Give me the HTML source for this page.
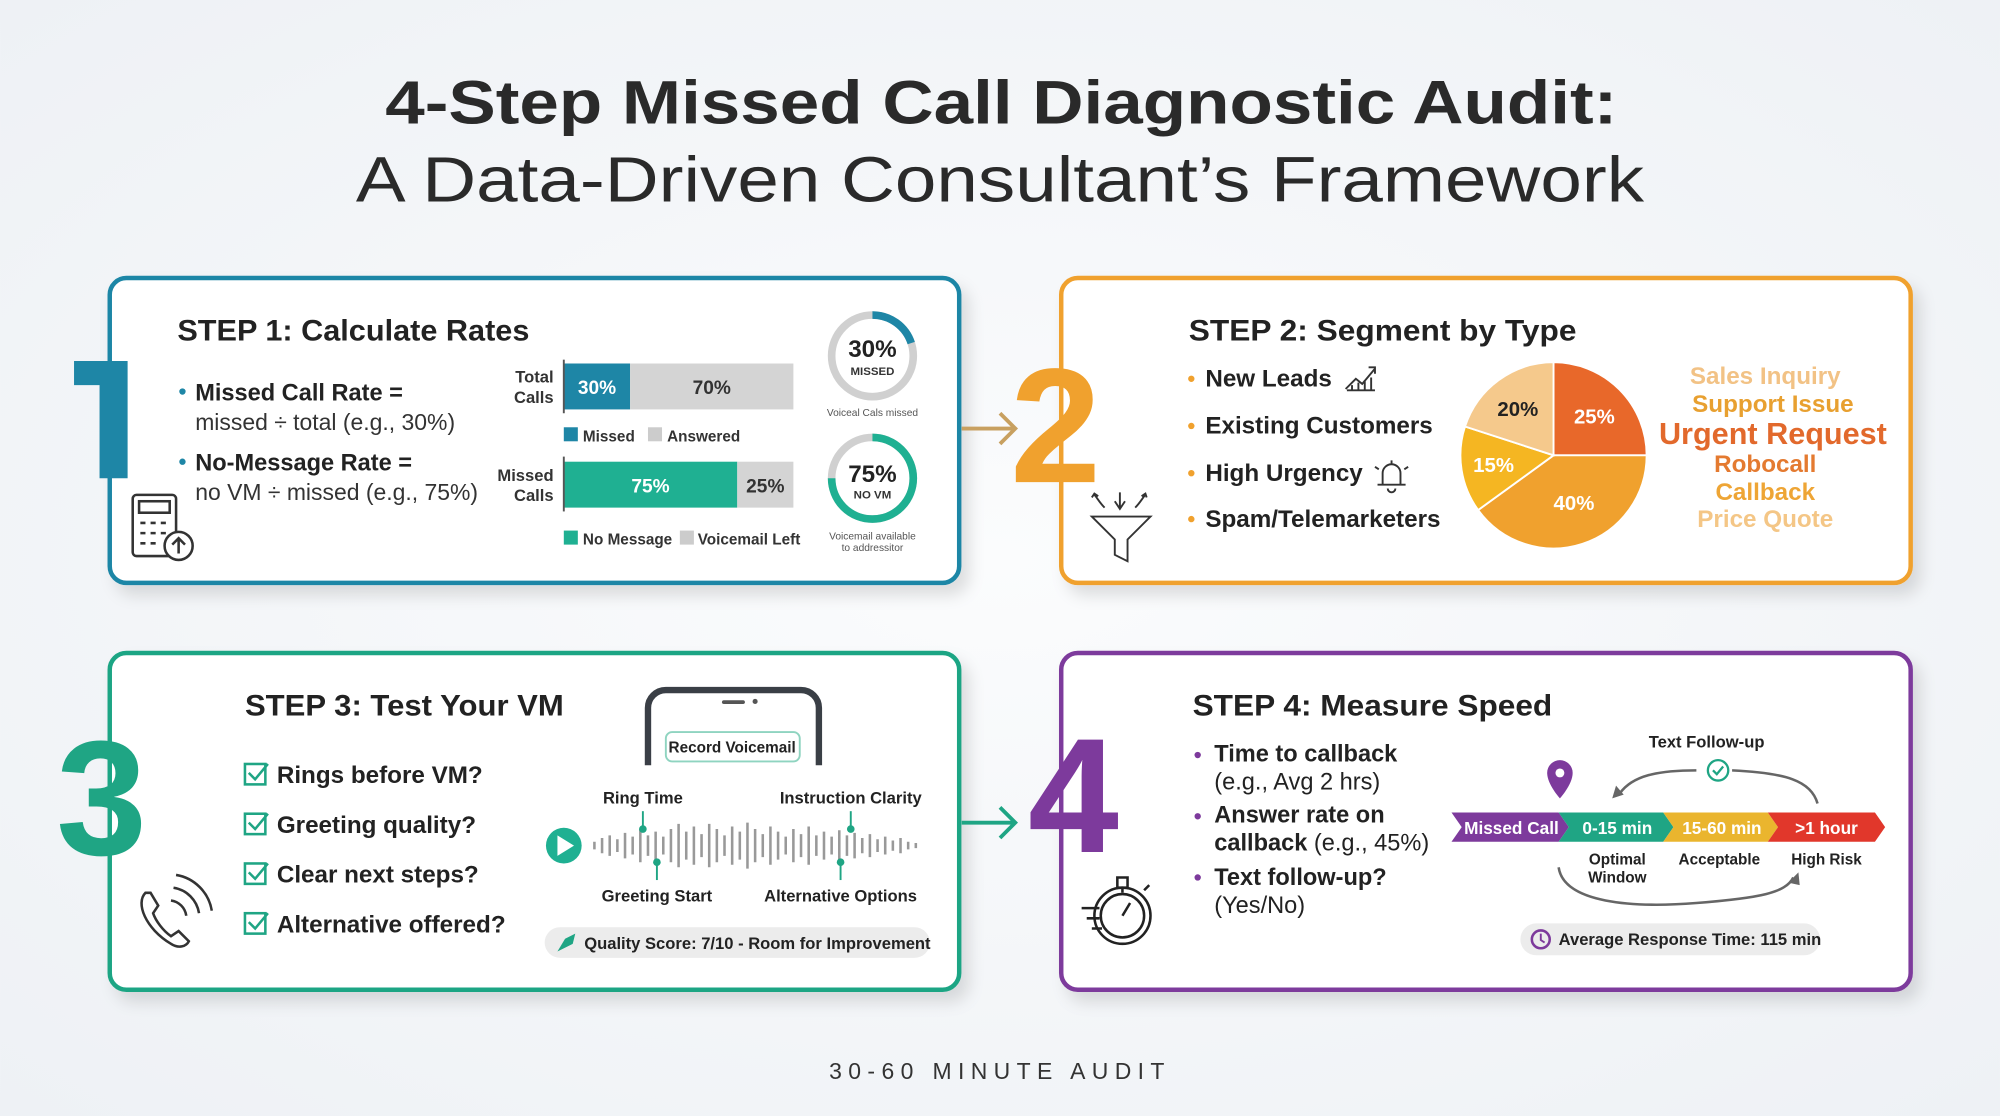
<!DOCTYPE html>
<html><head><meta charset="utf-8"><style>
html,body{margin:0;padding:0;background:#f3f5f8;}
svg{display:block;font-family:"Liberation Sans",sans-serif;}
</style></head><body>
<svg width="2000" height="1116" viewBox="0 0 1568 875" xmlns="http://www.w3.org/2000/svg">
<defs>
<radialGradient id="bg" cx="50%" cy="50%" r="70%"><stop offset="0" stop-color="#fbfcfd"/><stop offset="1" stop-color="#eef1f5"/></radialGradient>
<filter id="sh" x="-5%" y="-5%" width="115%" height="120%"><feDropShadow dx="6" dy="8" stdDeviation="6" flood-color="#000" flood-opacity="0.12"/></filter>
</defs>
<rect width="1568" height="875" fill="url(#bg)"/>
<text x="302" y="97" textLength="966" lengthAdjust="spacingAndGlyphs" font-size="48" font-weight="bold" fill="#2a2a2a">4-Step Missed Call Diagnostic Audit:</text>
<text x="279" y="158" textLength="1010" lengthAdjust="spacingAndGlyphs" font-size="50" fill="#2a2a2a">A Data-Driven Consultant’s Framework</text>

<!-- panels -->
<rect x="86" y="218" width="666" height="239" rx="13" fill="#fff" stroke="#1e86a6" stroke-width="3.5" filter="url(#sh)"/>
<rect x="832" y="218" width="666" height="239" rx="13" fill="#fff" stroke="#f0a12e" stroke-width="3.5" filter="url(#sh)"/>
<rect x="86" y="512" width="666" height="264" rx="13" fill="#fff" stroke="#1fa584" stroke-width="3.5" filter="url(#sh)"/>
<rect x="832" y="512" width="666" height="264" rx="13" fill="#fff" stroke="#7d3a9c" stroke-width="3.5" filter="url(#sh)"/>

<!-- big numbers -->
<path d="M58 283 H100 V375 H78 V302 H58 Z" fill="#1e86a6"/>
<text x="792" y="378" font-size="128" font-weight="bold" fill="#f0a12e">2</text>
<text x="44" y="670" font-size="128" font-weight="bold" fill="#1fa584">3</text>
<text x="806" y="668" font-size="128" font-weight="bold" fill="#7d3a9c">4</text>

<!-- connecting arrows -->
<path d="M754 336 H795 M784 324 L796 336 L784 348" stroke="#c8a060" stroke-width="3" fill="none"/>
<path d="M754 645 H795 M784 633 L796 645 L784 657" stroke="#1fa584" stroke-width="3" fill="none"/>

<!-- Panel 1 -->
<text x="139" y="267" textLength="276" lengthAdjust="spacingAndGlyphs" font-size="23" font-weight="bold" fill="#222">STEP 1: Calculate Rates</text>
<circle cx="143" cy="307" r="2.5" fill="#1e86a6"/>
<text x="153" y="314" font-size="18.5" font-weight="bold" fill="#222">Missed Call Rate =</text>
<text x="153" y="337" font-size="18" fill="#333">missed ÷ total (e.g., 30%)</text>
<circle cx="143" cy="362" r="2.5" fill="#1e86a6"/>
<text x="153" y="369" font-size="18.5" font-weight="bold" fill="#222">No-Message Rate =</text>
<text x="153" y="392" font-size="18" fill="#333">no VM ÷ missed (e.g., 75%)</text>
<g stroke="#333" stroke-width="2" fill="none">
<rect x="104" y="388" width="34" height="48" rx="3"/><rect x="109" y="393" width="24" height="9"/>
<path d="M110 410h4M118 410h4M126 410h4M110 418h4M118 418h4M126 418h4M110 426h4M118 426h4"/>
<circle cx="140" cy="428" r="11" fill="#fff"/><path d="M140 434v-12M135 427l5-5 5 5"/>
</g>
<text x="434" y="300" text-anchor="end" font-size="13" font-weight="bold" fill="#333">Total</text>
<text x="434" y="316" text-anchor="end" font-size="13" font-weight="bold" fill="#333">Calls</text>
<rect x="442" y="285" width="52" height="36" fill="#1e86a6"/><rect x="494" y="285" width="128" height="36" fill="#d4d4d4"/>
<line x1="442" y1="282" x2="442" y2="324" stroke="#555" stroke-width="1.5"/>
<text x="468" y="309" text-anchor="middle" font-size="15" font-weight="bold" fill="#fff">30%</text>
<text x="558" y="309" text-anchor="middle" font-size="15" font-weight="bold" fill="#333">70%</text>
<rect x="442" y="335" width="11" height="11" fill="#1e86a6"/><text x="457" y="346" font-size="12" font-weight="bold" fill="#333">Missed</text>
<rect x="508" y="335" width="11" height="11" fill="#ccc"/><text x="523" y="346" font-size="12" font-weight="bold" fill="#333">Answered</text>
<text x="434" y="377" text-anchor="end" font-size="13" font-weight="bold" fill="#333">Missed</text>
<text x="434" y="393" text-anchor="end" font-size="13" font-weight="bold" fill="#333">Calls</text>
<rect x="442" y="362" width="136" height="36" fill="#1fb092"/><rect x="578" y="362" width="44" height="36" fill="#d4d4d4"/>
<line x1="442" y1="358" x2="442" y2="401" stroke="#555" stroke-width="1.5"/>
<text x="510" y="386" text-anchor="middle" font-size="15" font-weight="bold" fill="#fff">75%</text>
<text x="600" y="386" text-anchor="middle" font-size="15" font-weight="bold" fill="#333">25%</text>
<rect x="442" y="416" width="11" height="11" fill="#1fb092"/><text x="457" y="427" font-size="12" font-weight="bold" fill="#333">No Message</text>
<rect x="533" y="416" width="11" height="11" fill="#ccc"/><text x="547" y="427" font-size="12" font-weight="bold" fill="#333">Voicemail Left</text>
<circle cx="684" cy="279" r="32" fill="none" stroke="#d0d0d0" stroke-width="6"/>
<path d="M684 247 A32 32 0 0 1 714.4 269" fill="none" stroke="#1e86a6" stroke-width="6"/>
<text x="684" y="280" text-anchor="middle" font-size="19" font-weight="bold" fill="#222">30%</text>
<text x="684" y="294" text-anchor="middle" font-size="9" font-weight="bold" fill="#333">MISSED</text>
<text x="684" y="326" text-anchor="middle" font-size="8" fill="#555">Voiceal Cals missed</text>
<circle cx="684" cy="375" r="32" fill="none" stroke="#d0d0d0" stroke-width="6"/>
<path d="M684 343 A32 32 0 1 1 652 375" fill="none" stroke="#1fb092" stroke-width="6"/>
<text x="684" y="378" text-anchor="middle" font-size="19" font-weight="bold" fill="#222">75%</text>
<text x="684" y="391" text-anchor="middle" font-size="9" font-weight="bold" fill="#333">NO VM</text>
<text x="684" y="423" text-anchor="middle" font-size="8" fill="#555">Voicemail available</text>
<text x="684" y="432" text-anchor="middle" font-size="8" fill="#555">to addressitor</text>

<!-- Panel 2 -->
<text x="932" y="267" textLength="304" lengthAdjust="spacingAndGlyphs" font-size="23" font-weight="bold" fill="#222">STEP 2: Segment by Type</text>
<g font-size="19" font-weight="bold" fill="#222">
<text x="945" y="303">New Leads</text><text x="945" y="340">Existing Customers</text>
<text x="945" y="377">High Urgency</text><text x="945" y="413">Spam/Telemarketers</text>
</g>
<g fill="#f0a12e"><circle cx="934" cy="297" r="2.5"/><circle cx="934" cy="334" r="2.5"/><circle cx="934" cy="371" r="2.5"/><circle cx="934" cy="407" r="2.5"/></g>
<g stroke="#333" stroke-width="1.5" fill="none">
<path d="M1055 305l8-8 5 4 10-12M1073 288h5v5M1056 306h22M1060 306v-4M1065 306v-6M1070 306v-8M1075 306v-10"/>
<path d="M1080 380h22M1084 380v-9a7 7 0 0 1 14 0v9M1091 364v-3M1088 383a3 3 0 0 0 6 0M1078 366l3 2M1104 366l-3 2"/>
<path d="M856 405h46l-18 18v17l-10-5v-12z M878 386v12M874 393l4 6 4-6M866 398c-4-4-6-8-8-10M890 398c4-4 6-8 8-10M856 390l2-3 3 2M895 389l3-2 1 3"/>
</g>
<g stroke="#fff" stroke-width="1.5">
<path d="M1218 357 L1218 284 A73 73 0 0 1 1291 357 Z" fill="#e8682a"/>
<path d="M1218 357 L1291 357 A73 73 0 0 1 1158.9 399.9 Z" fill="#f0a12e"/>
<path d="M1218 357 L1158.9 399.9 A73 73 0 0 1 1148.6 334.4 Z" fill="#f5b622"/>
<path d="M1218 357 L1148.6 334.4 A73 73 0 0 1 1218 284 Z" fill="#f5c98c"/>
</g>
<g font-size="16" font-weight="bold" text-anchor="middle">
<text x="1190" y="326" fill="#222">20%</text><text x="1250" y="332" fill="#fff">25%</text>
<text x="1171" y="370" fill="#fff">15%</text><text x="1234" y="400" fill="#fff">40%</text>
</g>
<g font-weight="bold" text-anchor="middle">
<text x="1384" y="301" font-size="19" fill="#f2c285">Sales Inquiry</text>
<text x="1390" y="323" font-size="19" fill="#e8a030">Support Issue</text>
<text x="1390" y="348" font-size="24" fill="#e2692c">Urgent Request</text>
<text x="1384" y="370" font-size="19" fill="#e47a30">Robocall</text>
<text x="1384" y="392" font-size="19" fill="#eea535">Callback</text>
<text x="1384" y="413" font-size="19" fill="#f4c686">Price Quote</text>
</g>

<!-- Panel 3 -->
<text x="192" y="561" textLength="250" lengthAdjust="spacingAndGlyphs" font-size="23" font-weight="bold" fill="#222">STEP 3: Test Your VM</text>
<g font-size="19" font-weight="bold" fill="#222">
<text x="217" y="614">Rings before VM?</text><text x="217" y="653">Greeting quality?</text>
<text x="217" y="692">Clear next steps?</text><text x="217" y="731">Alternative offered?</text>
</g>
<g stroke="#1fa584" stroke-width="2" fill="none">
<rect x="192" y="599" width="16" height="16"/><path d="M195 606l5 5 10-12"/>
<rect x="192" y="638" width="16" height="16"/><path d="M195 645l5 5 10-12"/>
<rect x="192" y="677" width="16" height="16"/><path d="M195 684l5 5 10-12"/>
<rect x="192" y="716" width="16" height="16"/><path d="M195 723l5 5 10-12"/>
</g>
<g stroke="#333" stroke-width="2" fill="none">
<path d="M114 700c-8 8 0 28 20 40c6 4 12 2 14-2l-8-8-6 4c-6-4-12-12-14-18l4-6-6-10z"/>
<path d="M134 706a14 14 0 0 1 12 12M136 696a24 24 0 0 1 20 20M138 686a34 34 0 0 1 28 28"/>
</g>
<path d="M508 600 V555 a14 14 0 0 1 14 -14 H628 a14 14 0 0 1 14 14 V600" fill="#fff" stroke="#3a3f46" stroke-width="5"/>
<rect x="566" y="549" width="18" height="3" rx="1.5" fill="#555"/><circle cx="592" cy="550" r="2" fill="#555"/>
<rect x="522" y="574" width="105" height="23" rx="5" fill="#fff" stroke="#8fd4c0" stroke-width="1.5"/>
<text x="574" y="590" text-anchor="middle" font-size="12" font-weight="bold" fill="#222">Record Voicemail</text>
<circle cx="442" cy="663" r="14" fill="#1fb092"/><path d="M437 655v16l13-8z" fill="#fff"/>
<g stroke="#999" stroke-width="2">
<path d="M466 660v6M472 657v12M478 655v16M484 658v10M490 653v20M496 656v14M502 650v26M508 655v16M514 652v22M520 656v14M526 650v26M532 646v34M538 652v22M544 648v30M550 654v18M556 646v34M562 650v26M568 655v16M574 648v30M580 652v22M586 645v36M592 650v26M598 654v18M604 648v30M610 652v22M616 656v14M622 650v26M628 654v18M634 648v30M640 655v16M646 652v22M652 656v14M658 651v24M664 655v16M670 653v20M676 657v12M682 654v18M688 658v10M694 656v14M700 659v8M706 657v12M712 660v6M718 661v4"/>
</g>
<g stroke="#1fa584" stroke-width="1.5"><line x1="504" y1="636" x2="504" y2="650"/><line x1="667" y1="636" x2="667" y2="650"/><line x1="515" y1="676" x2="515" y2="690"/><line x1="659" y1="676" x2="659" y2="690"/></g>
<g fill="#1fa584"><circle cx="504" cy="650" r="3"/><circle cx="667" cy="650" r="3"/><circle cx="515" cy="676" r="3"/><circle cx="659" cy="676" r="3"/></g>
<g font-size="13" font-weight="bold" fill="#222" text-anchor="middle">
<text x="504" y="630">Ring Time</text><text x="667" y="630">Instruction Clarity</text>
<text x="515" y="707">Greeting Start</text><text x="659" y="707">Alternative Options</text>
</g>
<rect x="427" y="727" width="302" height="24" rx="12" fill="#ececec"/>
<path d="M437 746l6-10 8-4-2 8z" fill="#1fa584"/>
<text x="458" y="744" font-size="13" font-weight="bold" fill="#222">Quality Score: 7/10 - Room for Improvement</text>

<!-- Panel 4 -->
<text x="935" y="561" textLength="282" lengthAdjust="spacingAndGlyphs" font-size="23" font-weight="bold" fill="#222">STEP 4: Measure Speed</text>
<g fill="#7d3a9c"><circle cx="939" cy="592" r="2.5"/><circle cx="939" cy="640" r="2.5"/><circle cx="939" cy="688" r="2.5"/></g>
<g font-size="18.5" fill="#222">
<text x="952" y="597" font-weight="bold">Time to callback</text>
<text x="952" y="619">(e.g., Avg 2 hrs)</text>
<text x="952" y="645" font-weight="bold">Answer rate on</text>
<text x="952" y="667"><tspan font-weight="bold">callback</tspan> (e.g., 45%)</text>
<text x="952" y="694" font-weight="bold">Text follow-up?</text>
<text x="952" y="716">(Yes/No)</text>
</g>
<g stroke="#222" stroke-width="2" fill="none">
<circle cx="880" cy="718" r="22"/><circle cx="880" cy="718" r="17"/>
<path d="M876 688h8v8h-8zM880 696v4M880 718l6-10M848 712h14M852 720h10M856 728h8M897 698l4-4"/>
</g>
<text x="1338" y="586" text-anchor="middle" font-size="13" font-weight="bold" fill="#222">Text Follow-up</text>
<path d="M1330 604 C1300 604 1280 608 1270 622" stroke="#666" stroke-width="2" fill="none"/>
<path d="M1264 626 l3 -10 l6 7z" fill="#666"/>
<path d="M1358 604 C1400 606 1420 612 1425 630" stroke="#666" stroke-width="2" fill="none"/>
<circle cx="1347" cy="604" r="8" fill="#fff" stroke="#1fa584" stroke-width="1.8"/><path d="M1343 604l3 3 5-6" stroke="#1fa584" stroke-width="1.8" fill="none"/>
<path d="M1213 606a10 10 0 0 1 20 0c0 9-10 20-10 20s-10-11-10-20z" fill="#7d3a9c"/><circle cx="1223" cy="606" r="3.5" fill="#fff"/>
<path d="M1138 637 H1222 L1230 648.5 L1222 660 H1138 L1146 648.5z" fill="#7d3a9c"/>
<path d="M1222 637 H1304 L1312 648.5 L1304 660 H1222 L1230 648.5z" fill="#1fa584"/>
<path d="M1304 637 H1386 L1394 648.5 L1386 660 H1304 L1312 648.5z" fill="#eab52e"/>
<path d="M1386 637 H1470 L1478 648.5 L1470 660 H1386 L1394 648.5z" fill="#e1372b"/>
<g font-size="13.5" font-weight="bold" fill="#fff" text-anchor="middle">
<text x="1185" y="654">Missed Call</text><text x="1268" y="654">0-15 min</text>
<text x="1350" y="654">15-60 min</text><text x="1432" y="654">&gt;1 hour</text>
</g>
<g font-size="12" font-weight="bold" fill="#222" text-anchor="middle">
<text x="1268" y="678">Optimal</text><text x="1268" y="692">Window</text>
<text x="1348" y="678">Acceptable</text><text x="1432" y="678">High Risk</text>
</g>
<path d="M1222 680 C1226 708 1280 712 1330 708 C1380 704 1400 700 1406 688" stroke="#666" stroke-width="2" fill="none"/>
<path d="M1402 692 l8 -8 l1 10z" fill="#666"/>
<rect x="1192" y="724" width="235" height="25" rx="12.5" fill="#ececec"/>
<circle cx="1208" cy="736.5" r="7" fill="none" stroke="#7d3a9c" stroke-width="2"/><path d="M1208 732v5l3 2" stroke="#7d3a9c" stroke-width="1.5" fill="none"/>
<text x="1222" y="741" font-size="13" font-weight="bold" fill="#222">Average Response Time: 115 min</text>

<text x="784" y="846" text-anchor="middle" font-size="18" letter-spacing="5" fill="#333">30-60 MINUTE AUDIT</text>
</svg>
</body></html>
